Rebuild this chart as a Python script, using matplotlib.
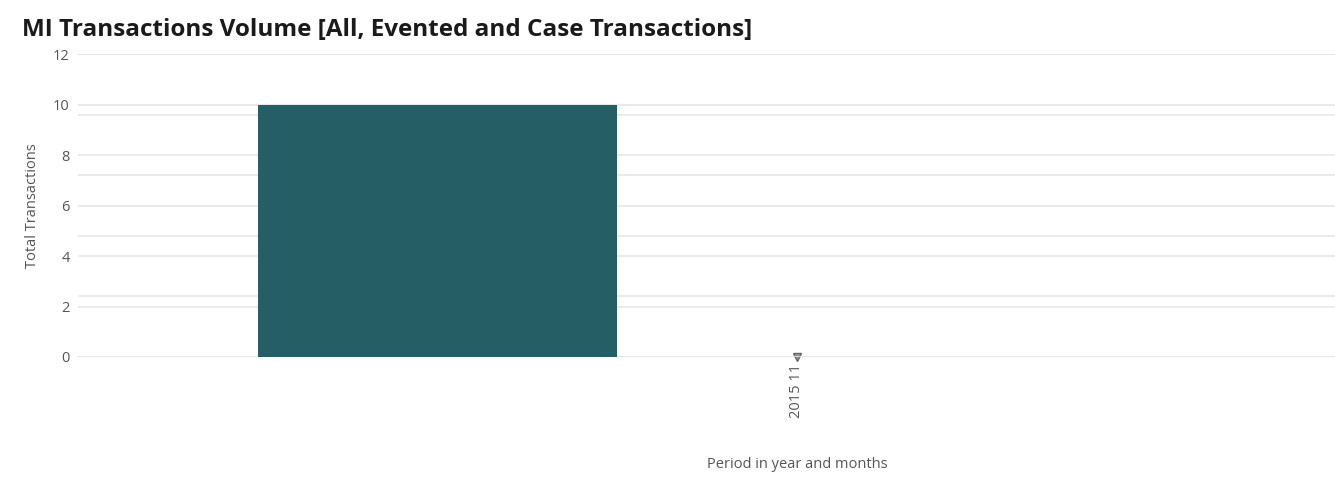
import matplotlib
matplotlib.use("Agg")
import matplotlib.pyplot as plt

# chart data
periods = ["2015 11"]
total_transactions = [10]
case_transactions = [0]

plt.rcParams['font.family'] = ['Open Sans', 'DejaVu Sans']

fig = plt.figure(figsize=(13.35, 4.84), dpi=100)
ax = fig.add_axes([0.0584, 0.2624, 0.9416, 0.626])

x = list(range(len(periods)))
bar_x = [i - 0.286 for i in x]
ax.bar(bar_x, total_transactions, width=0.286, color="#255e65", zorder=3)

ax.set_xlim(-0.572, 0.428)
ax.set_ylim(0, 12)
ax.set_yticks(range(0, 13, 2))
ax.grid(axis="y", color="#e6e6e6", linewidth=1.2, zorder=0)
ax.set_xticks(x)
ax.set_xticklabels(periods, rotation=90, fontsize=10.5, color="#555555")
ax.tick_params(axis="y", labelsize=10.5, labelcolor="#555555", length=0, pad=6)
ax.tick_params(axis="x", length=0, pad=5)
for s in ax.spines.values():
    s.set_visible(False)

ax.set_ylabel("Total Transactions", fontsize=10.5, color="#555555", labelpad=9)
ax.set_xlabel("Period in year and months", fontsize=10.5, color="#555555")
ax.xaxis.set_label_coords(0.572, -0.33)

# secondary axis for case transactions
ax2 = ax.twinx()
ax2.set_ylim(0, 5)
ax2.set_yticks(range(0, 6))
ax2.set_yticklabels([])
ax2.tick_params(length=0)
ax2.grid(axis="y", color="#e6e6e6", linewidth=1.2, zorder=0)
for s in ax2.spines.values():
    s.set_visible(False)
ax2.plot(x, case_transactions, marker="v", markersize=6, color="#999999",
         markeredgecolor="#666666", linestyle="none", clip_on=False, zorder=5)
ax.set_zorder(ax2.get_zorder() + 1)
ax.patch.set_visible(False)

fig.text(0.0165, 0.925, "MI Transactions Volume [All, Evented and Case Transactions]",
         fontsize=17.5, fontweight="bold", color="#1a1a1a")

fig.savefig("out.png", dpi=100)
